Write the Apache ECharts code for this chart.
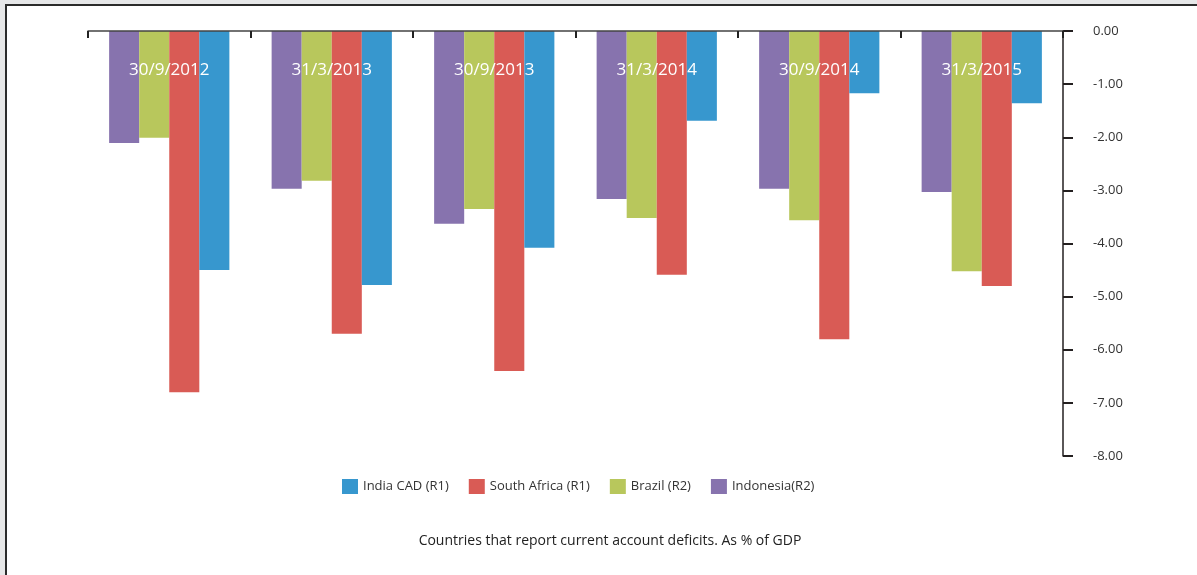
<!DOCTYPE html>
<html>
<head>
<meta charset="utf-8">
<script src="https://cdn.jsdelivr.net/npm/echarts@6/dist/echarts.min.js"></script>
<style>
  html, body { margin: 0; padding: 0; background: #e6e7e8; }
  #frame {
    position: absolute; left: 5px; top: 4px; width: 1192px; height: 571px;
    background: #fff; border-left: 2px solid #2b2b2b; border-top: 2px solid #2b2b2b;
  }
  #chart { position: absolute; left: 0; top: 0; width: 1197px; height: 575px; }
</style>
</head>
<body>
<div id="frame"></div>
<div id="chart"></div>
<script>
var dates = ['30/9/2012', '31/3/2013', '30/9/2013', '31/3/2014', '30/9/2014', '31/3/2015'];
var indonesia = [-2.11, -2.97, -3.63, -3.16, -2.97, -3.03];
var brazil = [-2.01, -2.82, -3.35, -3.52, -3.56, -4.52];
var southAfrica = [-6.80, -5.70, -6.40, -4.59, -5.80, -4.80];
var indiaCad = [-4.50, -4.78, -4.08, -1.69, -1.17, -1.36];
var legendNames = ['India CAD (R1)', 'South Africa (R1)', 'Brazil (R2)', 'Indonesia(R2)'];

var chart = echarts.init(document.getElementById('chart'));

function barSeries(name, color, data) {
    return {
        type: 'bar',
        name: name,
        barGap: '0%',
        barCategoryGap: '26%',
        itemStyle: { color: color },
        data: data
    };
}

chart.setOption({
    backgroundColor: 'transparent',
    animation: false,
    textStyle: { fontFamily: 'Open Sans' },
    title: {
        text: 'Countries that report current account deficits. As % of GDP',
        left: 605,
        top: 529,
        textAlign: 'center',
        textStyle: { fontSize: 14, fontWeight: 'normal', color: '#222', fontFamily: 'Open Sans' }
    },
    legend: {
        data: legendNames,
        left: 337,
        top: 474,
        itemWidth: 16,
        itemHeight: 15,
        itemGap: 20,
        icon: 'rect',
        textStyle: { fontSize: 13, color: '#333' }
    },
    grid: {
        left: 88,
        right: 134,
        top: 31,
        bottom: 119
    },
    xAxis: {
        type: 'category',
        position: 'top',
        data: dates,
        z: 10,
        axisLine: { onZero: false, lineStyle: { color: '#444', width: 1.5 } },
        axisTick: { show: true, inside: true, length: 7, lineStyle: { color: '#222', width: 2 } },
        axisLabel: { inside: true, margin: 31, color: '#fff', fontSize: 17 },
        splitLine: { show: false }
    },
    yAxis: {
        type: 'value',
        position: 'right',
        min: -8,
        max: 0,
        interval: 1,
        axisLine: { show: true, lineStyle: { color: '#231f20', width: 1.5 } },
        axisTick: { show: true, length: 10, lineStyle: { color: '#231f20', width: 2 } },
        axisLabel: {
            margin: 30,
            color: '#333',
            fontSize: 13,
            formatter: function (v) { return v.toFixed(2); }
        },
        splitLine: { show: false }
    },
    series: [
        barSeries('Indonesia(R2)', '#8773AE', indonesia),
        barSeries('Brazil (R2)', '#B8C75C', brazil),
        barSeries('South Africa (R1)', '#D95B55', southAfrica),
        barSeries('India CAD (R1)', '#3797CE', indiaCad)
    ]
});
</script>
</body>
</html>
